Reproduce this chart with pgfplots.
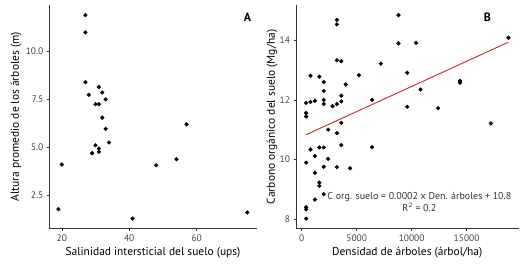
\documentclass[border=0pt]{standalone}
\usepackage{pgfplots}
\pgfplotsset{compat=1.18}
\usepackage{fontspec}
\setmainfont{PT Sans}
\definecolor{tickgray}{HTML}{444444}
\definecolor{axgray}{HTML}{333333}
\definecolor{fitred}{HTML}{C0282D}
\pgfplotsset{
  mystyle/.style={
    scale only axis,
    axis x line*=bottom, axis y line*=left,
    axis line style={axgray, line width=0.6bp},
    tick align=outside,
    major tick length=2.5bp,
    tick style={axgray, line width=0.5bp},
    ticklabel style={font=\fontsize{9.5}{10}\selectfont, text=tickgray},
    label style={font=\fontsize{11.5}{13}\selectfont, text=black},
    /pgf/number format/assume math mode=true,
    /pgf/number format/set thousands separator={},
    clip=false,
  }
}
\begin{document}
\begin{tikzpicture}[x=1bp,y=1bp]
\path (0,0) rectangle (528,264);
% Panel A
\begin{axis}[mystyle,
  at={(49.3bp,35.3bp)}, anchor=south west,
  width=207.4bp, height=223.7bp,
  xmin=16.3, xmax=77.8, ymin=0.75, ymax=12.43,
  xtick={20,40,60},
  ytick={2.5,5,7.5,10},
  yticklabel style={/pgf/number format/.cd, fixed, fixed zerofill, precision=1},
  xlabel={Salinidad intersticial del suelo (ups)},
  ylabel={Altura promedio de los árboles (m)},
  xlabel style={at={(axis description cs:0.5,-0.106)}, anchor=center},
  ylabel style={at={(axis description cs:-0.160,0.5)}, anchor=center, rotate=0},
]
\addplot[only marks, mark=*, mark size=1.9bp, black] coordinates {
(27,11.9) (27,11.0) (27,8.4) (28,7.74) (31,8.15) (32,7.86) (33,7.5)
(30,7.25) (31,7.25) (32,6.55) (33,5.96) (34,5.25) (30,5.11) (31,4.93)
(31,4.76) (29,4.69) (20,4.1) (19,1.77) (41,1.28) (48,4.06) (54,4.38)
(57,6.2) (75,1.6)
};
\node[font=\bfseries\fontsize{12}{14}\selectfont] at (rel axis cs:0.955,0.945) {A};
\end{axis}
% Panel B
\begin{axis}[mystyle,
  at={(296bp,35.3bp)}, anchor=south west,
  width=222.5bp, height=223.7bp,
  xmin=-520, xmax=19720, ymin=7.67, ymax=15.19,
  xtick={0,5000,10000,15000},
  ytick={8,10,12,14},
  scaled x ticks=false,
  xlabel={Densidad de árboles (árbol/ha)},
  ylabel={Carbono orgánico del suelo (Mg/ha)},
  xlabel style={at={(axis description cs:0.5,-0.106)}, anchor=center},
  ylabel style={at={(axis description cs:-0.108,0.5)}, anchor=center},
]
\addplot[only marks, mark=*, mark size=1.9bp, black] coordinates {
(400,11.90) (400,11.56) (400,11.44) (400,9.89) (400,8.39) (400,8.32) (400,8.01)
(800,12.81) (800,11.93) (800,10.33)
(1200,11.97) (1200,10.11) (1200,9.55) (1200,8.65)
(1600,12.78) (1600,10.40) (1600,9.22) (1600,9.11)
(2000,12.60) (2000,12.30) (2000,12.00) (2000,11.86) (2000,10.40) (2000,9.75) (2000,8.83)
(2400,11.00) (2400,10.02)
(2800,11.79)
(3200,14.69) (3200,14.54) (3200,13.33) (3200,11.86) (3200,10.88) (3200,9.74)
(3600,13.30) (3600,12.14) (3600,11.95) (3600,11.23) (3600,10.48)
(4000,12.52) (4400,9.70) (5200,12.83)
(6400,12.00) (6400,10.41)
(7200,13.22)
(8800,14.85) (8800,13.90)
(9600,12.91) (9600,11.77)
(10400,13.92) (10800,12.35) (12400,11.72)
(14400,12.64) (14400,12.58)
(17200,11.21) (18800,14.09)
};
\addplot[fitred, line width=0.9bp] coordinates {(400,10.83) (18800,13.94)};
\node[font=\fontsize{10}{12}\selectfont, text=axgray, align=center] at (axis cs:10700,8.57) {C org. suelo = 0.0002 x Den. árboles + 10.8\\R$^2$ = 0.2};
\node[font=\bfseries\fontsize{12}{14}\selectfont] at (rel axis cs:0.86,0.945) {B};
\end{axis}
\end{tikzpicture}
\end{document}
